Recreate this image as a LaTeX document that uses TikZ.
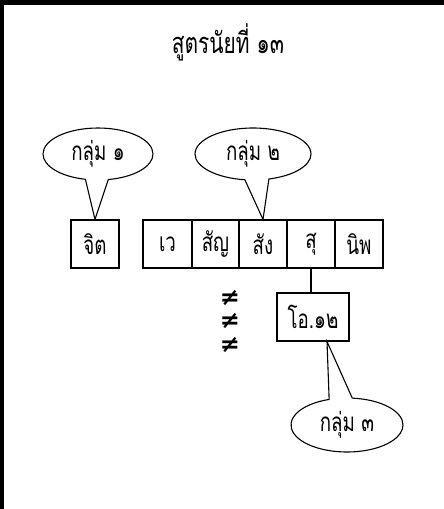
\documentclass[tikz,border=0pt]{standalone}
\usepackage{fontspec}
\newfontfamily\thaifont[Script=Thai, FakeStretch=0.72]{Loma}
\newfontfamily\symfont{DejaVu Sans}
\usetikzlibrary{shapes.callouts}
\tikzset{
  cell/.style={draw, line width=1.1pt, minimum width=48pt, minimum height=48pt, inner sep=0pt},
  group/.style={ellipse callout, draw, line width=1.1pt, minimum width=110pt, minimum height=52pt,
    inner sep=0pt, callout pointer arc=24},
  neq/.style={font=\symfont\bfseries\fontsize{24}{26}\selectfont, inner sep=0pt},
}
\begin{document}
\begin{tikzpicture}[x=1pt, y=-1pt, font=\thaifont\fontsize{26}{29}\selectfont]
  \useasboundingbox (0,0) rectangle (444,509);
  % frame
  \draw[line width=5pt] (0,2.5) -- (444,2.5);
  \draw[line width=4pt] (2,0) -- (2,509);
  \node (title) at (228,42) {\fontsize{29}{32}\selectfont สูตรนัยที่ ๑๓};
  % cells
  \node[cell] (jit) at (95,244) {จิต};
  \node[cell, minimum width=49pt] (wa) at (167.5,244) {เว};
  \node[cell, minimum width=47pt] (sanya) at (215.5,244) {สัญ};
  \node[cell] (sang) at (263,244) {สัง};
  \node[cell] (su) at (311,244) {สุ};
  \node[cell] (nip) at (359,244) {นิพ};
  \node[cell, minimum width=72pt] (o12) at (313,317) {โอ.๑๒};
  \draw[line width=1.1pt] (su.south) -- (su.south |- o12.north);
  % not equal
  \node[neq] (ne1) at (230,298) {≠};
  \node[neq] (ne2) at (230,321) {≠};
  \node[neq] (ne3) at (230,345) {≠};
  % callouts
  \node[group, callout absolute pointer={(jit.north)}] (g1) at (98,154) {กลุ่ม ๑};
  \node[group, minimum width=116pt, callout absolute pointer={(sang.north)}] (g2) at (253,154) {กลุ่ม ๒};
  \node[group, minimum width=112pt, minimum height=54pt,
    callout absolute pointer={([xshift=14pt]o12.south)}] (g3) at (347,425) {กลุ่ม ๓};
\end{tikzpicture}
\end{document}
